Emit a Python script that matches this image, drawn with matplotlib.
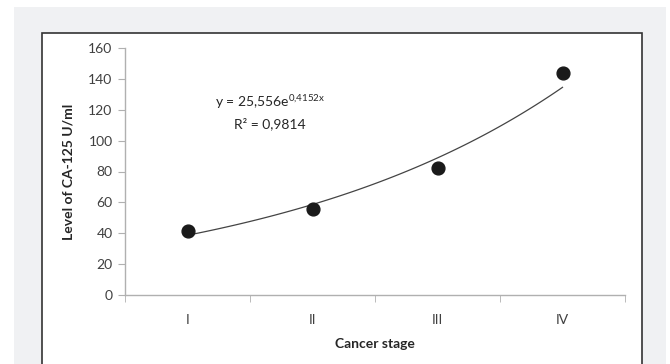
import numpy as np
import matplotlib
matplotlib.use('Agg')
import matplotlib.pyplot as plt
from matplotlib.patches import Rectangle

# data
stages = ['I', 'II', 'III', 'IV']
ca125 = [41.5, 55.5, 82, 143.5]
# exponential trendline y = a * exp(b * x), coefficients from the chart label
trend_a = 25.556
trend_b = 0.4152
y_ticks = [0, 20, 40, 60, 80, 100, 120, 140, 160]

plt.rcParams['font.family'] = ['Lato', 'DejaVu Sans']
plt.rcParams['mathtext.fontset'] = 'custom'
plt.rcParams['mathtext.rm'] = 'Lato'
plt.rcParams['mathtext.it'] = 'Lato'

W, H = 670, 364
fig = plt.figure(figsize=(W / 100, H / 100), dpi=100)
fig.patch.set_facecolor('white')

# outer gray panel and white chart box (pixel coords -> figure fractions)
def px_rect(x0, y0, x1, y1, **kw):
    return Rectangle((x0 / W, 1 - y1 / H), (x1 - x0) / W, (y1 - y0) / H,
                     transform=fig.transFigure, **kw)

fig.patches.append(px_rect(14, 7, 666, 370, facecolor='#f0f1f3', edgecolor='none', zorder=0))
fig.patches.append(px_rect(42, 33, 642, 380, facecolor='white', edgecolor='#333333',
                           linewidth=1.2, zorder=1))

ax = fig.add_axes([125 / W, 1 - 295 / H, 500 / W, (295 - 48) / H])
ax.set_facecolor('none')
ax.set_zorder(2)

x = np.arange(1, len(stages) + 1)
ax.scatter(x, ca125, s=85, color='#1a1a1a', zorder=3)

xt = np.linspace(1, 4, 100)
ax.plot(xt, trend_a * np.exp(trend_b * xt), color='#444444', linewidth=0.9, zorder=2)

ax.set_xlim(0.5, 4.5)
ax.set_ylim(0, 160)
ax.set_yticks(y_ticks)
ax.set_xticks(x)
ax.set_xticklabels(stages)
ax.set_xticks([0.5, 1.5, 2.5, 3.5, 4.5], minor=True)
ax.tick_params(axis='x', which='major', length=0, pad=14)
ax.tick_params(axis='x', which='minor', length=5, color='#b0b0b0', direction='out')
ax.tick_params(axis='y', length=5, color='#b0b0b0', direction='out', pad=4)
ax.tick_params(labelsize=10, labelcolor='#404040')

for s in ['top', 'right']:
    ax.spines[s].set_visible(False)
for s in ['left', 'bottom']:
    ax.spines[s].set_color('#b0b0b0')
    ax.spines[s].set_linewidth(1.0)

ax.set_xlabel('Cancer stage', fontsize=10, fontweight='bold', color='#262626', labelpad=8)
ax.set_ylabel('Level of CA-125 U/ml', fontsize=10, fontweight='bold', color='#262626', labelpad=10)

ax.text(0.29, 0.78, r'y = 25,556e$^{\mathrm{0{,}4152x}}$', transform=ax.transAxes,
        ha='center', va='center', fontsize=10, color='#262626')
ax.text(0.29, 0.695, 'R² = 0,9814', transform=ax.transAxes,
        ha='center', va='center', fontsize=10, color='#262626')

fig.savefig('out.png', dpi=100)
